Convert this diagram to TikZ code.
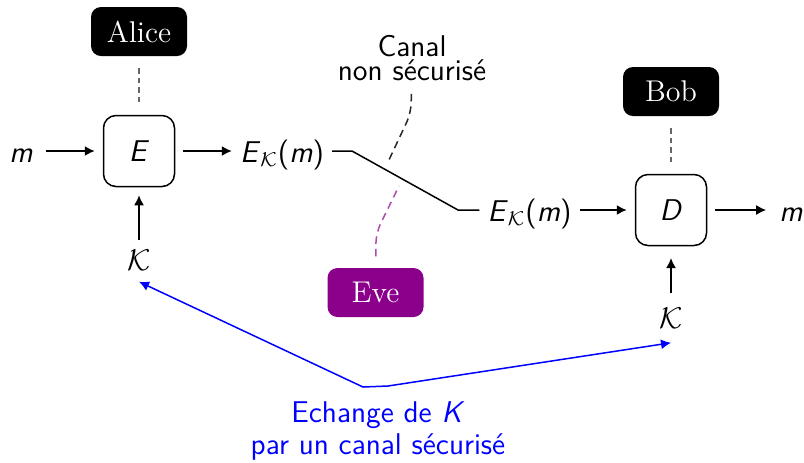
\documentclass[tikz,border=0pt]{standalone}
\usepackage{tikz}
\usetikzlibrary{arrows.meta,positioning}
\definecolor{EveMain}{HTML}{8B008B}
\definecolor{KeyBlue}{HTML}{0000FF}
\newcommand{\sv}[1]{\textit{#1}}
\tikzset{>={Latex[length=4pt,width=4pt]},
 agent/.style={fill=black,text=white,rounded corners=4pt,font=\large\rmfamily,
 minimum width=38.4pt,minimum height=19.6pt},
 op/.style={draw,rounded corners=5pt,minimum size=28.4pt,outer sep=3.5pt,font=\large\sffamily},
 sig/.style={inner sep=3pt,text height=8.8pt,text depth=0pt,font=\large\sffamily},
 link/.style={draw=black!60,dash pattern=on 2.2pt off 1.6pt,shorten <=4.6pt,shorten >=1pt},
 tap/.style={draw=black!85,dash pattern=on 3pt off 2pt,rounded corners=4pt},
 keyx/.style={draw=KeyBlue,<->}}
\begin{document}
\begin{tikzpicture}[x=0.4pt,y=-0.4pt,line width=0.6pt]
\useasboundingbox (0,0) rectangle (804,462);
% Alice side
\node[agent] (alice) at (139,31.5) {Alice};
\node[op] (enc) at (139,151) {\sv{E}};
\node[sig] (mA) at (21,151) {\sv{m}};
\node[sig] (ekA) at (282,151) {\sv{E}$_{\mathcal{K}}$(\sv{m})};
\node[sig] (kA) at (139,259) {$\mathcal{K}$};
% Bob side
\node[agent] (bob) at (671,91.5) {Bob};
\node[op] (dec) at (671,210) {\sv{D}};
\node[sig] (ekB) at (529.5,210) {\sv{E}$_{\mathcal{K}}$(\sv{m})};
\node[sig] (mB) at (791,210) {\sv{m}};
\node[sig] (kB) at (671,317) {$\mathcal{K}$};
% channel and Eve
\node[align=center,inner sep=3pt,font=\fontsize{12}{9.6}\selectfont\sffamily] (canal) at (412,58) {Canal\\non sécurisé};
\node[agent,fill=EveMain] (eve) at (375.5,292.5) {Eve};
\node[align=center,inner sep=3pt,text=KeyBlue,font=\fontsize{12}{12.8}\selectfont\sffamily] (xchg) at (378,431) {Echange de \sv{K}\\par un canal sécurisé};
\coordinate (bendA) at (352,151);
\coordinate (bendB) at (458,210);
\coordinate (canalBend) at (411,113);
\coordinate (tapA) at (388,162);
\coordinate (eveBend) at (376,233);
\coordinate (tapB) at (399,186);
\coordinate (cornerA) at (363,387);
\coordinate (cornerB) at (388,386);

\draw[->,shorten <=2pt] (mA) -- (enc);
\draw[->] (enc) -- (ekA);
\draw (ekA) -- (bendA) -- (bendB) -- (ekB);
\draw[->] (ekB) -- (dec);
\draw[->,shorten >=2pt] (dec) -- (mB);
\draw[->] (kA) -- (enc);
\draw[->,shorten <=2pt,shorten >=1.5pt] (kB) -- (dec);
\draw[link] (alice) -- (enc);
\draw[link] (bob) -- (dec);
\draw[tap,shorten <=2pt] (canal) -- (canalBend) -- (tapA);
\draw[tap,draw=EveMain!70,shorten <=4.4pt] (eve) -- (eveBend) -- (tapB);
\draw[keyx] ([yshift=-1.4pt]kA.south) -- (cornerA) -- (cornerB) -- ([yshift=-2.6pt]kB.south);
\end{tikzpicture}
\end{document}
